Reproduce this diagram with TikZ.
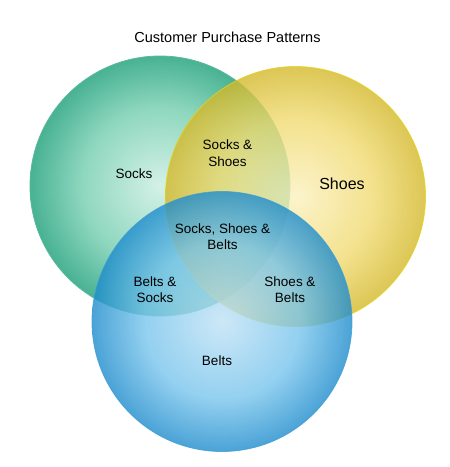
\documentclass[tikz,border=0pt]{standalone}
\usepackage{fontspec}
\setmainfont{Liberation Sans}
\usetikzlibrary{positioning}

\definecolor{socksedge}{HTML}{48B292}
\definecolor{socksmid}{HTML}{8FD7BF}
\definecolor{sockscore}{HTML}{D4F1E7}
\definecolor{shoesedge}{HTML}{D3B82A}
\definecolor{shoesmid}{HTML}{F0DA70}
\definecolor{shoescore}{HTML}{FBF1BF}
\definecolor{beltsedge}{HTML}{1E8CCC}
\definecolor{beltsmid}{HTML}{78C4EC}
\definecolor{beltscore}{HTML}{C0E2F5}

\pgfdeclareradialshading{socksshade}{\pgfpoint{0bp}{0bp}}{color(0bp)=(sockscore); color(15bp)=(socksmid); color(25bp)=(socksedge); color(50bp)=(socksedge)}
\pgfdeclareradialshading{shoesshade}{\pgfpoint{0bp}{0bp}}{color(0bp)=(shoescore); color(15bp)=(shoesmid); color(25bp)=(shoesedge); color(50bp)=(shoesedge)}
\pgfdeclareradialshading{beltsshade}{\pgfpoint{0bp}{0bp}}{color(0bp)=(beltscore); color(15bp)=(beltsmid); color(25bp)=(beltsedge); color(50bp)=(beltsedge)}

\begin{document}
\begin{tikzpicture}[
    x=1pt, y=-1pt,
    set/.style={circle, minimum size=260pt, inner sep=0pt, line width=0.8pt},
    lbl/.style={align=center, inner sep=0pt, font=\fontsize{13.5}{16.5}\selectfont},
    bigl/.style={align=center, inner sep=0pt, font=\fontsize{16}{19}\selectfont}
]

% Frame
\useasboundingbox (0,0) rectangle (450,467);

% Title
\node[inner sep=0pt, font=\fontsize{14.5}{17}\selectfont] (title) at (227.5,37) {Customer Purchase Patterns};

% Sets
\node[set, shading=socksshade, draw=socksedge!90!white] (socks) at (160,186) {};
\node[set, shading=shoesshade, draw=shoesedge!60!yellow, opacity=0.8] (shoes) at (295.5,196.5) {};
\node[set, shading=beltsshade, draw=beltsedge!85!white, opacity=0.8] (belts) at (222,321.5) {};

% Single sets
\node[lbl] (sockslbl) at (134,174) {Socks};
\node[bigl] (shoeslbl) at (342,184) {Shoes};
\node[lbl] (beltslbl) at (217,361) {Belts};

% Pairs
\node[lbl] (sockshoe) at (227.5,153) {Socks \&\\Shoes};
\node[lbl] (beltsock) at (155,289.5) {Belts \&\\Socks};
\node[lbl] (shoebelt) at (290,289.5) {Shoes \&\\Belts};

% All three
\node[lbl] (allthree) at (222.5,236.5) {Socks, Shoes \&\\Belts};

\end{tikzpicture}
\end{document}
